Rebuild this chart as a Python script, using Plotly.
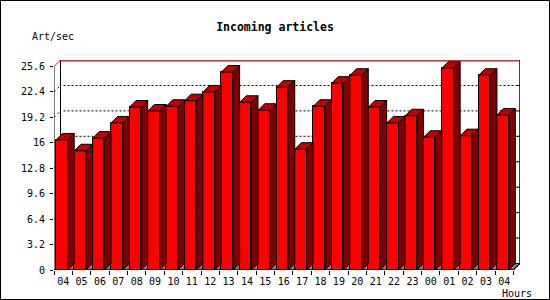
import plotly.graph_objects as go

# ---- data ----
hours = ["04", "05", "06", "07", "08", "09", "10", "11", "12", "13", "14", "15", "16",
         "17", "18", "19", "20", "21", "22", "23", "00", "01", "02", "03", "04"]
art_per_sec = [16.35, 15.0, 16.6, 18.5, 20.5, 20.0, 20.6, 21.3, 22.4, 24.9, 21.1, 20.1, 23.0,
               15.2, 20.6, 23.5, 24.5, 20.5, 18.5, 19.4, 16.7, 25.4, 16.9, 24.5, 19.5]
y_ticks = [0, 3.2, 6.4, 9.6, 12.8, 16, 19.2, 22.4, 25.6]
y_tick_text = ["0", "3.2", "6.4", "9.6", "12.8", "16", "19.2", "22.4", "25.6"]

# ---- geometry (pixels) ----
W, H = 550, 300
L, R, T, B = 54, 30, 60, 30
pw, ph = W - L - R, H - T - B
n = len(hours)
ymax = y_ticks[-1]
depth_px = 6.5
ppx = (pw - depth_px) / n
dx = depth_px / ppx
ppy = (ph - depth_px) / ymax
dy = depth_px / ppy

f_left, f_right = 0.11, 0.745  # front face inside each cell
FRONT = "#ff0000"
TOP = "#c00000"
SIDE = "#800000"
FLOOR = "#808080"
MONO = "DejaVu Sans Mono"

fig = go.Figure()

# front faces
fig.add_trace(go.Bar(
    x=[i + (f_left + f_right) / 2 for i in range(n)], y=art_per_sec,
    width=f_right - f_left, marker=dict(color=FRONT, line=dict(color="black", width=1)),
    hoverinfo="skip", showlegend=False))

# top and side faces
tx, ty, sx, sy = [], [], [], []
for i, v in enumerate(art_per_sec):
    x0, x1 = i + f_left, i + f_right
    tx += [x0, x1, x1 + dx, x0 + dx, x0, None]
    ty += [v, v, v + dy, v + dy, v, None]
    sx += [x1, x1 + dx, x1 + dx, x1, x1, None]
    sy += [0, dy, v + dy, v, 0, None]
fig.add_trace(go.Scatter(x=tx, y=ty, mode="lines", fill="toself", fillcolor=TOP,
                         line=dict(color="black", width=1), hoverinfo="skip", showlegend=False))
fig.add_trace(go.Scatter(x=sx, y=sy, mode="lines", fill="toself", fillcolor=SIDE,
                         line=dict(color="black", width=1), hoverinfo="skip", showlegend=False))

shapes = []
# back wall
shapes.append(dict(type="rect", xref="x", yref="y", x0=dx, x1=n + dx, y0=dy, y1=ymax + dy,
                   fillcolor="white", line=dict(color="black", width=1), layer="below"))
# floor
shapes.append(dict(type="path", xref="x", yref="y",
                   path=f"M 0 0 L {n} 0 L {n + dx} {dy} L {dx} {dy} Z",
                   fillcolor=FLOOR, line=dict(color="black", width=1), layer="below"))
# dotted gridlines on back wall
for v in y_ticks[1:-1]:
    shapes.append(dict(type="line", xref="x", yref="y", x0=dx + 3 / ppx, x1=n + dx, y0=v + dy, y1=v + dy,
                       line=dict(color="black", width=1, dash="2px,2px"), layer="below"))
    shapes.append(dict(type="line", xref="x", yref="y", x0=0, x1=dx, y0=v, y1=v + dy,
                       line=dict(color="black", width=1, dash="2px,3px"), layer="below"))
    shapes.append(dict(type="line", xref="x", yref="y", x0=n + dx - 3 / ppx, x1=n + dx,
                       y0=v + dy, y1=v + dy, line=dict(color="black", width=1), layer="above"))
# top edge of wall, red
shapes.append(dict(type="line", xref="x", yref="y", x0=dx, x1=n + dx,
                   y0=ymax + dy - 1 / ppy, y1=ymax + dy - 1 / ppy,
                   line=dict(color="#ff0000", width=1), layer="above"))
shapes.append(dict(type="line", xref="x", yref="y", x0=0, x1=dx, y0=ymax, y1=ymax + dy,
                   line=dict(color="#ff0000", width=1), layer="above"))
# front y axis, left wall edge
shapes.append(dict(type="line", xref="x", yref="y", x0=0, x1=0, y0=0, y1=ymax,
                   line=dict(color="black", width=1), layer="above"))
shapes.append(dict(type="line", xref="x", yref="y", x0=dx, x1=dx, y0=dy, y1=ymax + dy,
                   line=dict(color="black", width=1), layer="below"))
# front x axis and right floor edge
shapes.append(dict(type="line", xref="x", yref="y", x0=0, x1=n, y0=0, y1=0,
                   line=dict(color="black", width=1), layer="above"))
shapes.append(dict(type="line", xref="x", yref="y", x0=n, x1=n + dx, y0=0, y1=dy,
                   line=dict(color="black", width=1), layer="above"))
shapes.append(dict(type="line", xref="x", yref="y", x0=n + dx, x1=n + dx, y0=dy, y1=ymax + dy,
                   line=dict(color="black", width=1), layer="above"))
# outer frame
shapes.append(dict(type="rect", xref="paper", yref="paper",
                   x0=(0.5 - L) / pw, x1=(W - 0.5 - L) / pw,
                   y0=-(B - 0.5) / ph, y1=1 + (T - 0.5) / ph,
                   line=dict(color="black", width=1), fillcolor="rgba(0,0,0,0)"))

fig.update_layout(
    width=W, height=H, margin=dict(l=L, r=R, t=T, b=B, pad=0),
    paper_bgcolor="white", plot_bgcolor="white",
    bargap=0, showlegend=False,
    font=dict(family=MONO, size=10, color="black"),
    title=dict(text="Incoming articles", x=0.5, xref="container", xanchor="center",
               y=1 - 27 / H, yref="container", yanchor="middle",
               font=dict(family=MONO, size=11.5, color="black", weight="bold")),
    xaxis=dict(range=[0, n + dx], showgrid=False, zeroline=False, showline=False,
               tickmode="array", tickvals=[i + 0.5 for i in range(n)], ticktext=hours,
               ticks="outside", ticklen=2, tickcolor="rgba(0,0,0,0)",
               tickfont=dict(family=MONO, size=10, color="black"),
               minor=dict(tickmode="array", tickvals=list(range(n + 1)), ticks="outside",
                          ticklen=4, tickcolor="black", showgrid=False),
               fixedrange=True),
    yaxis=dict(range=[0, ymax + dy], showgrid=False, zeroline=False, showline=False,
               tickmode="array", tickvals=y_ticks, ticktext=y_tick_text,
               ticks="outside", ticklen=3, tickcolor="black", ticklabelstandoff=3,
               tickfont=dict(family=MONO, size=10, color="black"), fixedrange=True),
    shapes=shapes,
    annotations=[
        dict(text="Art/sec", xref="paper", yref="paper", x=(30 - L) / pw, y=1 + (T - 37) / ph,
             xanchor="left", yanchor="middle", showarrow=False,
             font=dict(family=MONO, size=10, color="black")),
        dict(text="Hours", xref="paper", yref="paper", x=(534 - L) / pw, y=-(293 - (H - B)) / ph,
             xanchor="right", yanchor="middle", showarrow=False,
             font=dict(family=MONO, size=10, color="black")),
    ],
)

fig.write_html("out.html")
